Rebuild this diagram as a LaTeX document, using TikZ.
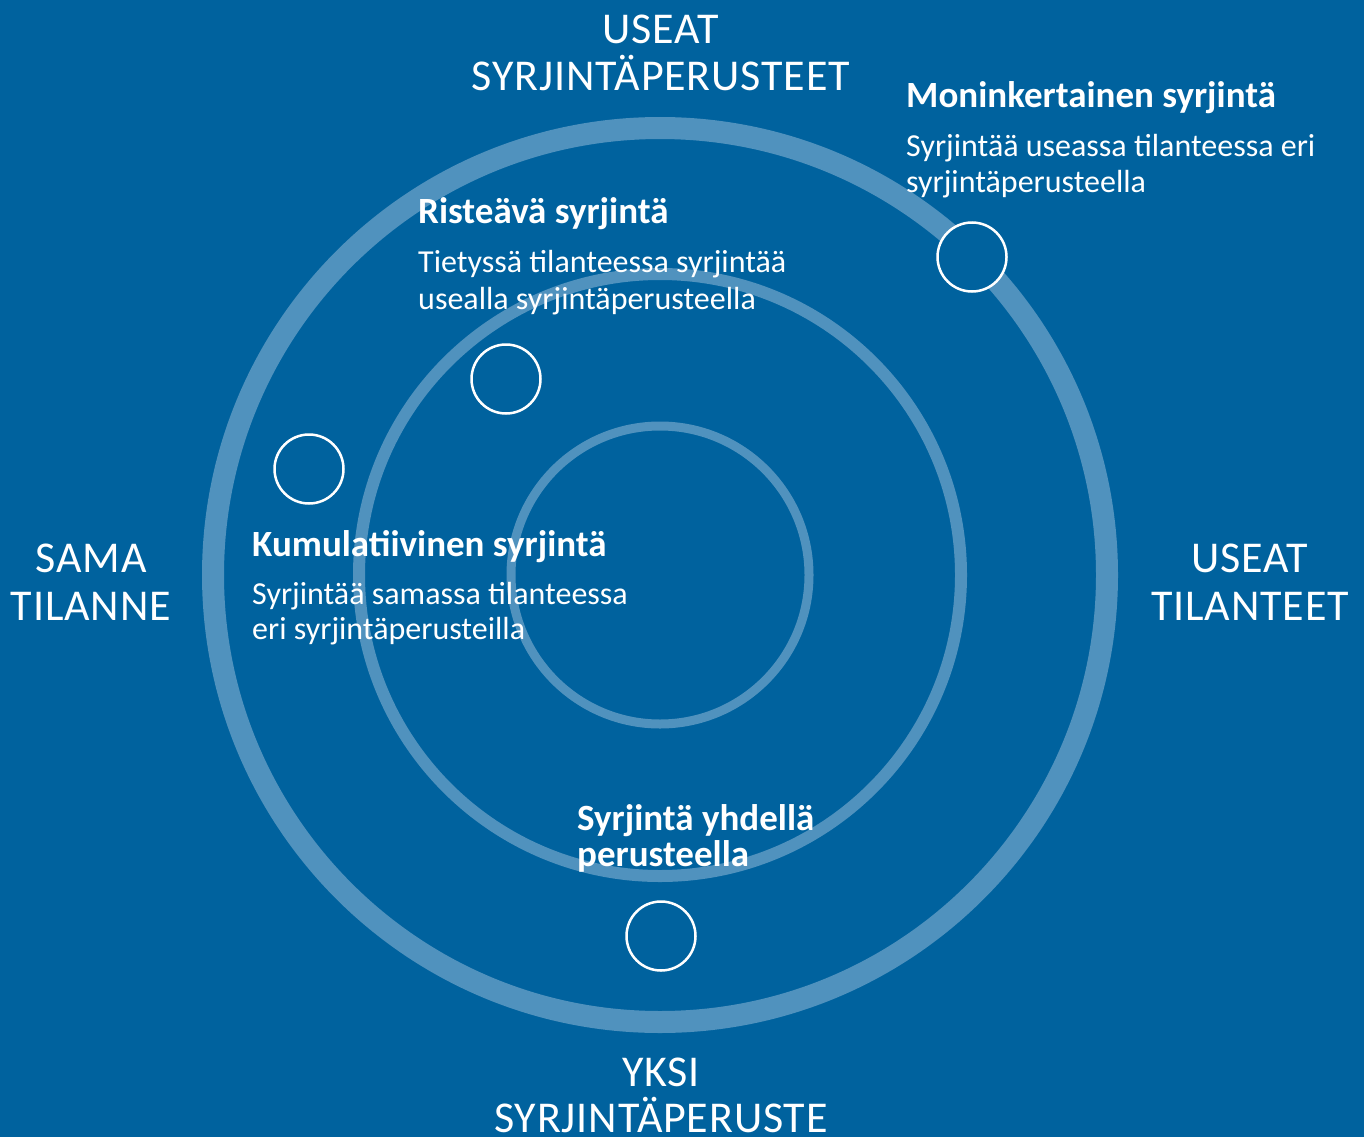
\documentclass[tikz,border=0pt]{standalone}
\usepackage{fontspec}
\setmainfont{Carlito}
\newfontfamily\capsfont[LetterSpace=2]{Carlito}
\definecolor{bgblue}{RGB}{0,98,158}
\definecolor{ringblue}{RGB}{80,146,190}
\tikzset{
  ring/.style={draw=ringblue},
  spot/.style={draw=white, line width=2.5pt, fill=bgblue},
  caps/.style={text=white, inner sep=0pt, anchor=base, font=\capsfont\fontsize{44}{44}\selectfont},
  ttl/.style={text=white, inner sep=0pt, anchor=base west, font=\fontsize{37}{37}\selectfont\bfseries},
  desc/.style={text=white, inner sep=0pt, anchor=base west, font=\fontsize{32}{32}\selectfont}
}
\begin{document}
\begin{tikzpicture}[x=1pt,y=-1pt]
\fill[bgblue] (0,0) rectangle (1364,1137);
\useasboundingbox (0,0) rectangle (1364,1137);
\coordinate (c) at (660,575);
\draw[ring, line width=22pt] (c) circle[radius=447];
\draw[ring, line width=12pt] (c) circle[radius=301];
\draw[ring, line width=9pt] (c) circle[radius=149];
% small circles
\node[spot, circle, minimum size=69pt, inner sep=0pt] (s1) at (972,257) {};
\node[spot, circle, minimum size=69pt, inner sep=0pt] (s2) at (506,379) {};
\node[spot, circle, minimum size=69pt, inner sep=0pt] (s3) at (309,469) {};
\node[spot, circle, minimum size=69pt, inner sep=0pt] (s4) at (661,936) {};
% axis labels
\node[caps] (t1) at (661,44) {USEAT};
\node[caps] (t2) at (661,91) {SYRJINTÄPERUSTEET};
\node[caps] (l1) at (91,572) {SAMA};
\node[caps] (l2) at (91,620) {TILANNE};
\node[caps] (r1) at (1250,572) {USEAT};
\node[caps] (r2) at (1250,620) {TILANTEET};
\node[caps] (b1) at (661,1086) {YKSI};
\node[caps] (b2) at (661,1132) {SYRJINTÄPERUSTE};
% descriptions
\node[ttl] (m0) at (906,107.5) {Moninkertainen syrjintä};
\node[desc] (m1) at (906,156) {Syrjintää useassa tilanteessa eri};
\node[desc] (m2) at (906,192) {syrjintäperusteella};
\node[ttl] (x0) at (418,223.5) {Risteävä syrjintä};
\node[desc] (x1) at (418,272) {Tietyssä tilanteessa syrjintää};
\node[desc] (x2) at (418,309) {usealla syrjintäperusteella};
\node[ttl] (k0) at (252,556.5) {Kumulatiivinen syrjintä};
\node[desc] (k1) at (252,604) {Syrjintää samassa tilanteessa};
\node[desc] (k2) at (252,639) {eri syrjintäperusteilla};
\node[ttl] (y0) at (577,830) {Syrjintä yhdellä};
\node[ttl] (y1) at (577,866) {perusteella};
\end{tikzpicture}
\end{document}
